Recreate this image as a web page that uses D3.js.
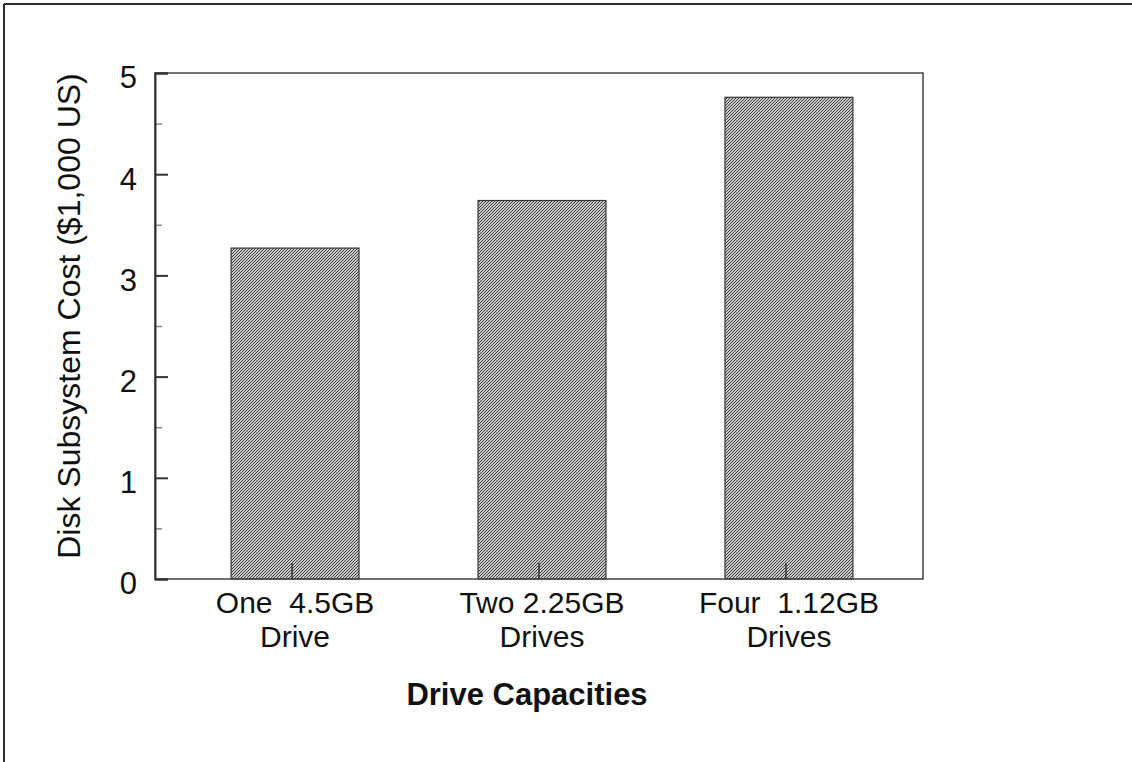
<!DOCTYPE html>
<html>
<head>
<meta charset="utf-8">
<script src="https://cdn.jsdelivr.net/npm/d3@7"></script>
<style>
  body { margin: 0; background: #fff; }
  text { font-family: "Liberation Sans", Arial, sans-serif; fill: #111; }
</style>
</head>
<body>
<svg id="chart" width="1132" height="762"></svg>
<script>
// chart data
const categories = ["One  4.5GB|Drive", "Two 2.25GB|Drives", "Four  1.12GB|Drives"];
const costs = [3.27, 3.74, 4.76];
const yTicks = [0, 1, 2, 3, 4, 5];
const yMinorTicks = [0.5, 1.5, 2.5, 3.5, 4.5];
const yTitle = "Disk Subsystem Cost ($1,000 US)";
const xTitle = "Drive Capacities";

const svg = d3.select("#chart");
const W = +svg.attr("width");
const H = +svg.attr("height");

const m = { left: 155, right: 209, top: 73, bottom: 183 }; // plot box margins
const pw = W - m.left - m.right;
const ph = H - m.top - m.bottom;

// outer frame (top + left only)
svg.append("line").attr("x1", 4).attr("x2", W).attr("y1", 4).attr("y2", 4)
    .attr("stroke", "#2a2a2a").attr("stroke-width", 2);
svg.append("line").attr("x1", 4).attr("x2", 4).attr("y1", 4).attr("y2", H)
    .attr("stroke", "#2a2a2a").attr("stroke-width", 2);

// hatch fill
const defs = svg.append("defs");
const pat = defs.append("pattern")
    .attr("id", "hatch")
    .attr("width", 3).attr("height", 3)
    .attr("patternUnits", "userSpaceOnUse");
pat.append("rect").attr("width", 3).attr("height", 3).attr("fill", "#cacaca");
pat.append("path").attr("d", "M0,3 L3,0 M-1,1 L1,-1 M2,4 L4,2")
    .attr("stroke", "#404040").attr("stroke-width", 1.0);

const g = svg.append("g").attr("transform", `translate(${m.left},${m.top})`);

const x = d3.scaleBand()
    .domain(categories)
    .range([0, pw])
    .paddingInner(0.482)
    .paddingOuter(0.296);

const y = d3.scaleLinear().domain([0, 5]).range([ph, 0]);

// bars
g.selectAll("rect.bar")
    .data(costs)
    .enter()
    .append("rect")
    .attr("class", "bar")
    .attr("x", (d, i) => x(categories[i]) + 3)
    .attr("y", d => y(d))
    .attr("width", x.bandwidth())
    .attr("height", d => ph - y(d))
    .attr("fill", "url(#hatch)")
    .attr("stroke", "#333")
    .attr("stroke-width", 1.2);

// plot box
g.append("rect")
    .attr("width", pw).attr("height", ph)
    .attr("fill", "none")
    .attr("stroke", "#444")
    .attr("stroke-width", 1.5);

// y minor ticks
g.append("g")
    .call(d3.axisLeft(y).tickValues(yMinorTicks).tickSize(-7).tickFormat(""))
    .call(a => a.select(".domain").remove())
    .call(a => a.selectAll("line").attr("stroke", "#888").attr("stroke-width", 1.5));

// y major ticks
g.append("g")
    .call(d3.axisLeft(y).tickValues(yTicks).tickSize(-13).tickPadding(18).tickFormat(d3.format("d")))
    .call(a => a.select(".domain").attr("stroke", "#333").attr("stroke-width", 2))
    .call(a => a.selectAll("line").attr("stroke", "#333").attr("stroke-width", 2))
    .call(a => a.selectAll("text")
        .attr("font-size", 31).attr("font-family", "Liberation Sans, Arial, sans-serif")
        .attr("fill", "#111").attr("dy", "0.48em"));

// x ticks and labels
const xa = g.append("g")
    .attr("transform", `translate(0,${ph})`)
    .call(d3.axisBottom(x).tickSize(-16).tickPadding(0).tickFormat(""))
    .call(a => a.select(".domain").remove())
    .call(a => a.selectAll("line").attr("stroke", "#333").attr("stroke-width", 1.5));

xa.selectAll(".tick text").remove();
xa.selectAll(".tick").append("text")
    .attr("text-anchor", "middle")
    .attr("font-size", 30)
    .attr("fill", "#111")
    .each(function(d) {
        const parts = d.split("|");
        const t = d3.select(this);
        parts.forEach((p, i) => {
            t.append("tspan")
                .attr("x", 3)
                .attr("y", 34 + i * 34)
                .attr("xml:space", "preserve")
                .style("white-space", "pre")
                .text(p);
        });
    });

// axis titles
svg.append("text")
    .attr("transform", `translate(80,${m.top + ph / 2 - 10}) rotate(-90)`)
    .attr("text-anchor", "middle")
    .attr("font-size", 32)
    .text(yTitle);

svg.append("text")
    .attr("x", 527)
    .attr("y", 705)
    .attr("text-anchor", "middle")
    .attr("font-size", 31)
    .attr("font-weight", "bold")
    .text(xTitle);
</script>
</body>
</html>
